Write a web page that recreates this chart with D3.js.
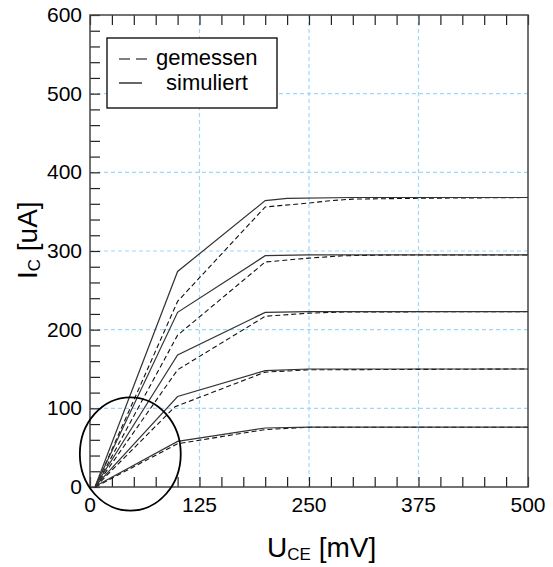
<!DOCTYPE html>
<html>
<head>
<meta charset="utf-8">
<script src="https://cdn.jsdelivr.net/npm/d3@7"></script>
<style>
  body { margin: 0; background: #fff; }
  text { font-family: "Liberation Sans", Arial, sans-serif; fill: #000; }
</style>
</head>
<body>
<div id="chart"></div>
<script>
// Achsen
const xTicks = [0, 125, 250, 375, 500];
const yTicks = [0, 100, 200, 300, 400, 500, 600];
const xGrid = [125, 250, 375];
const yGrid = [100, 200, 300, 400, 500];

// simulierte Kennlinien [U_CE mV, I_C uA]
const simuliert = [
  [[6, 1], [100, 274], [200, 364], [225, 367], [300, 368], [500, 368]],
  [[6, 1], [100, 222], [200, 294], [250, 295], [500, 295]],
  [[6, 1], [100, 168], [200, 222], [250, 223], [500, 223]],
  [[6, 1], [100, 115], [200, 148], [250, 150], [500, 150]],
  [[6, 1], [100, 58], [200, 75], [250, 76], [500, 76]]
];

// gemessene Kennlinien
const gemessen = [
  [[6, 0], [100, 236], [200, 356], [250, 361], [275, 364], [300, 366], [375, 367], [500, 368]],
  [[6, 0], [100, 193], [200, 286], [250, 291], [290, 294], [350, 295], [500, 295]],
  [[6, 0], [100, 149], [200, 217], [250, 221], [290, 222.5], [500, 223]],
  [[6, 0], [97, 102], [200, 146], [250, 149], [500, 150]],
  [[6, 0], [100, 55], [200, 73], [250, 76], [500, 76]]
];

// Markierung (Ellipse um den Ursprung)
const kreis = { u: 46, i: 42, du: 57.6, di: 72 };

const W = 553, H = 567;
const svg = d3.select("#chart").append("svg")
  .attr("width", W).attr("height", H);

const x = d3.scaleLinear().domain([0, 500]).range([90, 528]);
const y = d3.scaleLinear().domain([0, 600]).range([487, 15]);

// Gitter
const grid = svg.append("g")
  .attr("stroke", "#9fd6fb").attr("stroke-width", 1.2)
  .attr("stroke-dasharray", "4,3");
grid.selectAll("line.gx").data(xGrid).join("line")
  .attr("x1", d => x(d)).attr("x2", d => x(d))
  .attr("y1", y(600)).attr("y2", y(0));
grid.selectAll("line.gy").data(yGrid).join("line")
  .attr("x1", x(0)).attr("x2", x(500))
  .attr("y1", d => y(d)).attr("y2", d => y(d));

// Ticks innen
const axBottom = svg.append("g").attr("transform", `translate(0,${y(0)})`)
  .call(d3.axisTop(x).tickValues(d3.range(0, 501, 25)).tickSize(10).tickFormat(""));
const axTop = svg.append("g").attr("transform", `translate(0,${y(600)})`)
  .call(d3.axisBottom(x).tickValues(d3.range(0, 501, 25)).tickSize(10).tickFormat(""));
const axLeft = svg.append("g").attr("transform", `translate(${x(0)},0)`)
  .call(d3.axisRight(y).tickValues(d3.range(0, 601, 20)).tickSize(10).tickFormat(""));
[axBottom, axTop, axLeft].forEach(g => {
  g.select(".domain").remove();
  g.selectAll(".tick line").attr("stroke", "#222").attr("stroke-width", 1.2);
});

// Tick-Beschriftung
svg.append("g").selectAll("text").data(xTicks).join("text")
  .attr("x", d => x(d)).attr("y", y(0) + 25)
  .attr("text-anchor", "middle").attr("font-size", 21)
  .text(d => d);
svg.append("g").selectAll("text").data(yTicks).join("text")
  .attr("x", x(0) - 8).attr("y", d => y(d) + 7)
  .attr("text-anchor", "end").attr("font-size", 21)
  .text(d => d);

// Rahmen
svg.append("rect")
  .attr("x", x(0)).attr("y", y(600))
  .attr("width", x(500) - x(0)).attr("height", y(0) - y(600))
  .attr("fill", "none").attr("stroke", "#444").attr("stroke-width", 1.5);

// Kurven
const line = d3.line().x(d => x(d[0])).y(d => y(d[1]));
svg.append("g").selectAll("path").data(gemessen).join("path")
  .attr("d", line).attr("fill", "none")
  .attr("stroke", "#111").attr("stroke-width", 1.1)
  .attr("stroke-dasharray", "5,3");
svg.append("g").selectAll("path").data(simuliert).join("path")
  .attr("d", line).attr("fill", "none")
  .attr("stroke", "#333").attr("stroke-width", 1.2);

// Ellipse
svg.append("ellipse")
  .attr("cx", x(kreis.u)).attr("cy", y(kreis.i))
  .attr("rx", x(kreis.u + kreis.du) - x(kreis.u))
  .attr("ry", y(kreis.i) - y(kreis.i + kreis.di))
  .attr("fill", "none").attr("stroke", "#000").attr("stroke-width", 1.8);

// Legende
const leg = svg.append("g");
leg.append("rect")
  .attr("x", 107).attr("y", 38).attr("width", 170).attr("height", 70)
  .attr("fill", "#fff").attr("stroke", "#000").attr("stroke-width", 1.3);
leg.append("line").attr("x1", 119).attr("x2", 148).attr("y1", 59).attr("y2", 59)
  .attr("stroke", "#000").attr("stroke-width", 1.2).attr("stroke-dasharray", "11,6");
leg.append("line").attr("x1", 119).attr("x2", 142).attr("y1", 83).attr("y2", 83)
  .attr("stroke", "#000").attr("stroke-width", 1.2);
leg.append("text").attr("x", 156).attr("y", 65).attr("font-size", 22).text("gemessen");
leg.append("text").attr("x", 166).attr("y", 90).attr("font-size", 22).text("simuliert");

// Achsentitel
const xt = svg.append("text")
  .attr("x", 267).attr("y", 557).attr("font-size", 28);
xt.append("tspan").text("U");
xt.append("tspan").attr("font-size", 17).attr("dy", 3).text("CE");
xt.append("tspan").attr("dy", -3).text(" [mV]");

const yt = svg.append("text")
  .attr("transform", "translate(37,279) rotate(-90)")
  .attr("font-size", 28);
yt.append("tspan").text("I");
yt.append("tspan").attr("font-size", 17).attr("dy", 3).text("C");
yt.append("tspan").attr("dy", -3).text(" [uA]");
</script>
</body>
</html>
